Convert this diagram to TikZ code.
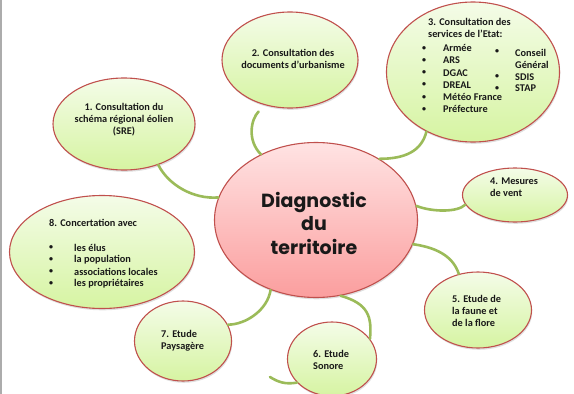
\documentclass[tikz,border=0pt]{standalone}
\usepackage{fontspec}
\setmainfont{Carlito}
\newfontfamily\titlefont{Poppins}
\usetikzlibrary{shapes.geometric,shadows}

\definecolor{bord}{HTML}{C0504D}
\definecolor{liane}{HTML}{9BBB59}
\definecolor{vertclair}{HTML}{F4FCE8}
\definecolor{vertfonce}{HTML}{D6F4A2}
\definecolor{roseclair}{HTML}{FFE3E3}
\definecolor{rosefonce}{HTML}{FB9E9E}

\tikzset{
  bulle/.style={ellipse, draw=bord, line width=1.1pt, inner sep=0pt,
    top color=vertclair, bottom color=vertfonce,
    drop shadow={shadow xshift=0.8pt, shadow yshift=-1.8pt, opacity=0.25}},
  centre/.style={bulle, top color=roseclair, bottom color=rosefonce},
  lien/.style={draw=liane, line width=2.6pt, line cap=round},
  txt/.style={font=\bfseries\fontsize{10.3}{12}\selectfont, text=black!90, inner sep=0pt},
  puce/.style={txt, font=\bfseries\fontsize{8}{12}\selectfont}
}

\begin{document}
\begin{tikzpicture}[x=1pt, y=-1pt]
  \useasboundingbox (0,0) rectangle (574,394);
  \draw[gray!65, line width=1.6pt] (1,0) -- (1,394);

  \node[centre, minimum width=203pt, minimum height=155pt] (diag) at (316,220) {};
  \node[bulle, minimum width=142pt, minimum height=92pt] (sre) at (124,124) {};
  \node[bulle, minimum width=136pt, minimum height=96pt] (urba) at (290,60) {};
  \node[bulle, minimum width=173pt, minimum height=140pt] (etat) at (473,72) {};
  \node[bulle, minimum width=105pt, minimum height=54pt] (vent) at (515,195) {};
  \node[bulle, minimum width=107pt, minimum height=76pt] (faune) at (478,310) {};
  \node[bulle, minimum width=89pt, minimum height=74pt] (sonore) at (332,359) {};
  \node[bulle, minimum width=97pt, minimum height=80pt] (paysage) at (183,341) {};
  \node[bulle, minimum width=185pt, minimum height=113pt] (concert) at (102,252) {};

  \node[align=center, inner sep=0pt, text=black!90,
    font=\titlefont\bfseries\fontsize{19}{23.5}\selectfont] (titre) at (314,223) {Diagnostic\\du\\territoire};

  \node[txt, align=center] (t1) at (124,120) {1. Consultation du\\schéma régional éolien\\(SRE)};
  \node[txt, align=center] (t2) at (293,59) {2. Consultation des\\documents d’urbanisme};
  \node[txt, align=left, anchor=west] (t3) at (428,28) {3. Consultation des\\services de l’Etat:};
  \foreach \mot [count=\i] in {Armée, ARS, DGAC, DREAL, Météo France, Préfecture} {
    \node[puce] (p3\i) at (424,{48.3+(\i-1)*12.2}) {\textbullet};
    \node[txt, anchor=west] (m3\i) at (443,{48.3+(\i-1)*12.2}) {\mot};
  }
  \node[puce] (q1) at (497,52) {\textbullet};
  \node[puce] (q2) at (497,76.5) {\textbullet};
  \node[puce] (q3) at (497,88.5) {\textbullet};
  \node[txt, anchor=west] (n1) at (515,52.7) {Conseil};
  \node[txt, anchor=west] (n2) at (515,65) {Général};
  \node[txt, anchor=west] (n3) at (515,76.7) {SDIS};
  \node[txt, anchor=west] (n4) at (515,88.5) {STAP};
  \node[txt, align=left, anchor=west] (t4) at (490,187) {4. Mesures\\de vent};
  \node[txt, align=left, anchor=west] (t5) at (452,311) {5. Etude de\\la faune et\\de la flore};
  \node[txt, align=left, anchor=west] (t6) at (313,360) {6. Etude\\Sonore};
  \node[txt, align=left, anchor=west] (t7) at (161,341) {7. Etude\\Paysagère};
  \node[txt, anchor=west] (t8) at (49,223.3) {8. Concertation avec};
  \foreach \mot [count=\i] in {les élus, la population, associations locales, les propriétaires} {
    \node[puce] (p8\i) at (51,{247.7+(\i-1)*12}) {\textbullet};
    \node[txt, anchor=west] (m8\i) at (74,{247.7+(\i-1)*12}) {\mot};
  }

  \draw[lien] (sre.-50) .. controls +(10,20) and +(-25,2) .. (diag.167);
  \draw[lien, shorten <=9pt] (urba.-119) .. controls +(-14,14) and +(-14,-14) .. (diag.130);
  \draw[lien] (etat.-128) .. controls +(-5,20) and +(25,0) .. (diag.44);
  \draw[lien] (diag.8) .. controls +(15,6) and +(-8,8) .. (vent.-169);
  \draw[lien] (diag.-14) .. controls +(28,4) and +(-5,-15) .. (faune.118);
  \draw[lien] (diag.-72) .. controls +(28,8) and +(2,-22) .. (sonore.28);
  \draw[lien] (diag.-123) .. controls +(-3,20) and +(18,0) .. (paysage.20);
  \coordinate (bout) at (270,377);
  \draw[lien] (sonore.-146) .. controls +(-12,2) and +(8,5) .. (bout);
\end{tikzpicture}
\end{document}
